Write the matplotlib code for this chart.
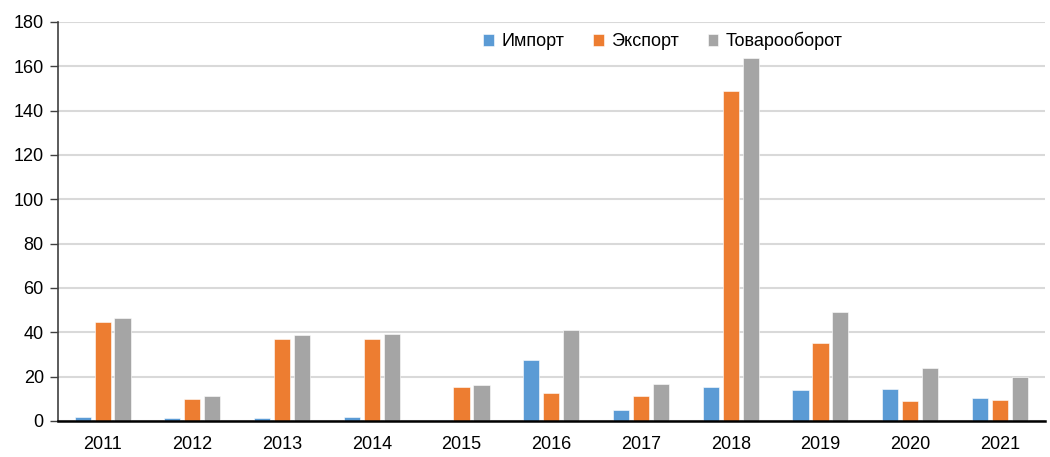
import matplotlib.pyplot as plt
import numpy as np

plt.rcParams['font.family'] = ['Liberation Sans', 'DejaVu Sans']

# Годы и значения по сериям
years = ['2011', '2012', '2013', '2014', '2015', '2016', '2017', '2018', '2019', '2020', '2021']
imports = [1.8, 1.3, 1.4, 1.7, 0.5, 27.7, 5.0, 15.2, 14.0, 14.4, 10.5]
exports = [44.4, 9.9, 37.1, 37.1, 15.5, 12.8, 11.3, 149.0, 35.2, 9.0, 9.5]
turnover = [46.3, 11.3, 38.8, 39.1, 16.2, 40.8, 16.5, 163.9, 49.2, 23.8, 20.0]

labels = ['Импорт', 'Экспорт', 'Товарооборот']
colors = ['#5B9BD5', '#ED7D31', '#A5A5A5']

fig = plt.figure(figsize=(10.5, 4.57), dpi=100)
ax = fig.add_axes([0.055, 0.079, 0.94, 0.873])

x = np.arange(len(years))
width = 0.18
step = 0.222
for i, (vals, lab, col) in enumerate(zip([imports, exports, turnover], labels, colors)):
    ax.bar(x + (i - 1) * step, vals, width, color=col, label=lab,
           edgecolor='white', linewidth=0.4, zorder=3)

ax.set_xlim(-0.5, len(years) - 0.5)
ax.set_ylim(0, 180)
ax.set_yticks(np.arange(0, 181, 20))
ax.set_xticks(x)
ax.set_xticklabels(years)
ax.tick_params(axis='x', length=0, labelsize=13, pad=11)
ax.tick_params(axis='y', length=6, width=1, color='#404040', labelsize=13, pad=4)

ax.grid(axis='y', color='#d9d9d9', linewidth=1.5, zorder=0)
for side in ['top', 'right']:
    ax.spines[side].set_visible(False)
ax.spines['left'].set_color('#404040')
ax.spines['left'].set_linewidth(1.2)
ax.spines['bottom'].set_color('black')
ax.spines['bottom'].set_linewidth(1.8)
ax.spines['bottom'].set_zorder(4)

ax.legend(loc='upper center', bbox_to_anchor=(0.613, 1.0), ncol=3, frameon=False,
          fontsize=13, handlelength=0.6, handleheight=0.6, handletextpad=0.4,
          columnspacing=1.6, borderaxespad=0.15)

plt.savefig('out.png', dpi=100)
